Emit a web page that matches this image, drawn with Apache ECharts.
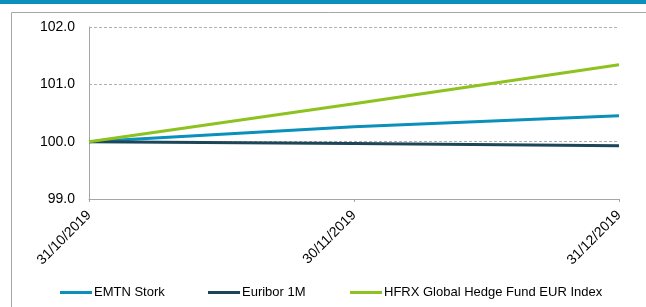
<!DOCTYPE html>
<html>
<head>
<meta charset="utf-8">
<script src="https://cdn.jsdelivr.net/npm/echarts@6/dist/echarts.min.js"></script>
<style>
  html, body { margin: 0; padding: 0; background: #fff; }
  #chart { width: 646px; height: 307px; }
</style>
</head>
<body>
<div id="chart"></div>
<script>
// dates on the x axis
var dates = ['31/10/2019', '30/11/2019', '31/12/2019'];
// series values
var emtnStork = [100.0, 100.26, 100.45];
var euribor1M = [100.0, 99.97, 99.93];
var hfrxIndex = [100.0, 100.66, 101.34];

var seriesNames = ['EMTN Stork', 'Euribor 1M', 'HFRX Global Hedge Fund EUR Index'];
var seriesColors = ['#0b8fbb', '#1d4659', '#8dc21f'];
var legendLeft = [60, 208, 350];
var fontName = 'Liberation Sans, Arial';

var myChart = echarts.init(document.getElementById('chart'));

var makeSeries = function (i, data) {
    return {
        name: seriesNames[i],
        type: 'line',
        data: data,
        symbol: 'none',
        lineStyle: { width: 3, color: seriesColors[i] },
        itemStyle: { color: seriesColors[i] },
        z: 3 + i
    };
};

// one legend per item so each can sit where the original puts it
var legends = seriesNames.map(function (name, i) {
    return {
        data: [name],
        left: legendLeft[i],
        top: 286,
        padding: 0,
        icon: 'rect',
        itemWidth: 32,
        itemHeight: 3,
        itemGap: 0,
        textStyle: { fontFamily: fontName, fontSize: 13, color: '#000', padding: [0, 0, 0, -3] },
        selectedMode: false
    };
});

var option = {
    backgroundColor: '#fff',
    animation: false,
    graphic: [
        { type: 'rect', shape: { x: 0, y: 0, width: 646, height: 4 }, style: { fill: '#0b8fbb' } },
        { type: 'polyline', shape: { points: [[11.5, 307], [11.5, 12.5], [646, 12.5]] }, style: { stroke: '#a6a6a6', lineWidth: 1, fill: null } }
    ],
    legend: legends,
    grid: { left: 89, right: 27, top: 27, bottom: 108, containLabel: false },
    xAxis: {
        type: 'category',
        data: dates,
        boundaryGap: false,
        axisLine: { lineStyle: { color: '#a6a6a6' } },
        axisTick: { show: true, length: 3, lineStyle: { color: '#a6a6a6' } },
        axisLabel: {
            rotate: 45,
            margin: 14,
            fontFamily: fontName,
            fontSize: 14,
            color: '#000'
        },
        splitLine: { show: false }
    },
    yAxis: {
        type: 'value',
        min: 99,
        max: 102,
        interval: 1,
        axisLine: { show: true, lineStyle: { color: '#a6a6a6' } },
        axisTick: { show: false },
        axisLabel: {
            margin: 14,
            fontFamily: fontName,
            fontSize: 14,
            color: '#000',
            formatter: function (v) { return v.toFixed(1); }
        },
        splitLine: { show: true, lineStyle: { color: '#b0b0b0', type: [3, 2] } }
    },
    series: [
        makeSeries(0, emtnStork),
        makeSeries(1, euribor1M),
        makeSeries(2, hfrxIndex)
    ]
};
myChart.setOption(option);
</script>
</body>
</html>
